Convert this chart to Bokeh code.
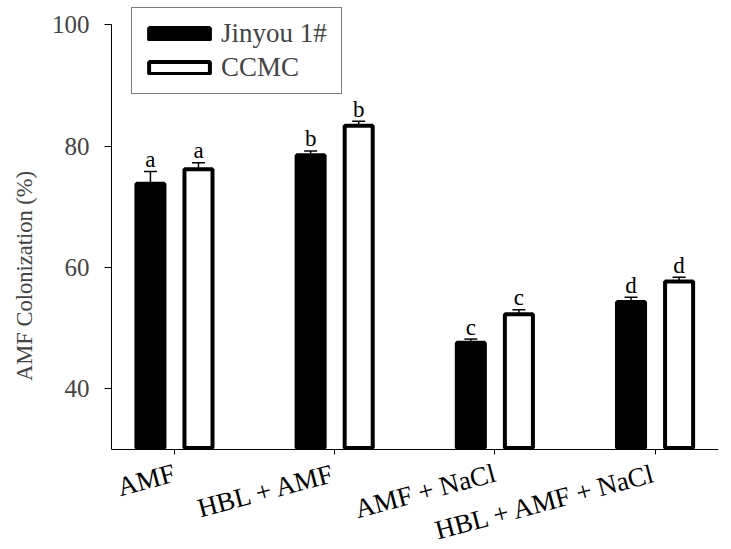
import numpy as np
from bokeh.plotting import figure
from bokeh.models import (ColumnDataSource, FixedTicker, Whisker, TeeHead,
                          Legend, LegendItem, Range1d)
from bokeh.embed import file_html
from bokeh.resources import INLINE
from bokeh.core.properties import value

# ---- data ----
categories = ["AMF", "HBL + AMF", "AMF + NaCl", "HBL + AMF + NaCl"]
jinyou = [73.8, 78.5, 47.6, 54.3]
jinyou_err = [2.0, 0.7, 0.6, 0.8]
ccmc = [76.2, 83.35, 52.3, 57.7]
ccmc_err = [1.05, 0.75, 0.75, 0.7]
jinyou_letters = ["a", "b", "c", "d"]
ccmc_letters = ["a", "b", "c", "d"]
y_ticks = [40, 60, 80, 100]
y_min, y_max = 30, 100

FONT = "Liberation Serif"
idx = np.arange(len(categories))
offset = 0.15

src_j = ColumnDataSource(dict(x=idx - offset, top=jinyou,
                              upper=np.array(jinyou) + np.array(jinyou_err),
                              lab=jinyou_letters))
src_c = ColumnDataSource(dict(x=idx + offset, top=ccmc,
                              upper=np.array(ccmc) + np.array(ccmc_err),
                              lab=ccmc_letters))
src_cat = ColumnDataSource(dict(x=idx, y=[y_min] * len(categories), name=categories))

p = figure(frame_width=607, frame_height=537, output_backend="svg",
           toolbar_location=None,
           x_range=Range1d(-0.393, 3.396), y_range=Range1d(14.34, 102.85),
           min_border_left=111, min_border_right=13, min_border_top=7,
           min_border_bottom=0)
p.outline_line_color = None
p.xgrid.grid_line_color = None
p.ygrid.grid_line_color = None
p.background_fill_color = "white"
p.border_fill_color = "white"

rj = p.vbar(x="x", top="top", bottom=30.25, width=0.175, source=src_j,
            fill_color="black", line_color="black", line_width=4)
rc = p.vbar(x="x", top="top", bottom=30.25, width=0.175, source=src_c,
            fill_color="white", line_color="black", line_width=4)

for src in (src_j, src_c):
    w = Whisker(source=src, base="x", lower="top", upper="upper", dimension="height",
                line_color="black", line_width=1.5, lower_head=None,
                upper_head=TeeHead(size=13, line_color="black", line_width=1.5),
                level="overlay")
    p.add_layout(w)
    p.text(x="x", y="upper", text="lab", source=src, text_align="center",
           text_baseline="alphabetic", y_offset=-12, text_color="black",
           text_font=value(FONT), text_font_size="23px")

# category labels under the axis line
p.text(x="x", y="y", text="name", source=src_cat, angle=0.26,
       text_align="right", text_baseline="middle", x_offset=0, y_offset=23,
       text_color="black", text_font=value(FONT), text_font_size="27px")

# y axis
ya = p.yaxis[0]
ya.ticker = FixedTicker(ticks=y_ticks)
ya.bounds = (y_min, y_max)
ya.axis_label = "AMF Colonization (%)"
ya.axis_label_text_font = FONT
ya.axis_label_text_font_style = "normal"
ya.axis_label_text_font_size = "22.5px"
ya.axis_label_standoff = 12
ya.major_label_text_font = FONT
ya.major_label_text_font_size = "25px"
ya.major_label_standoff = 15
ya.major_tick_in = 0
ya.major_tick_out = 7
ya.minor_tick_out = 0
ya.minor_tick_in = 0
ya.axis_line_color = "black"
ya.major_tick_line_color = "black"

# x axis drawn at y = 30 (labels are drawn by the text glyph above)
xa = p.xaxis[0]
xa.fixed_location = y_min
xa.ticker = FixedTicker(ticks=list(idx))
xa.major_label_text_font_size = "1px"
xa.major_label_text_color = None
xa.major_label_standoff = 0
xa.major_tick_in = 0
xa.major_tick_out = 5
xa.minor_tick_out = 0
xa.minor_tick_in = 0
xa.axis_line_color = "black"
xa.major_tick_line_color = "black"

legend = Legend(items=[LegendItem(label="Jinyou 1#", renderers=[rj]),
                       LegendItem(label="CCMC", renderers=[rc])],
                location=(20, 450), border_line_color="black", border_line_width=1,
                background_fill_color="white", background_fill_alpha=1,
                label_text_font=FONT, label_text_font_size="27px",
                glyph_width=76, glyph_height=15, padding=9, spacing=1,
                label_height=33, label_width=111, label_standoff=4, margin=0)
p.add_layout(legend, "center")

open("out.html", "w").write(file_html(p, INLINE))
